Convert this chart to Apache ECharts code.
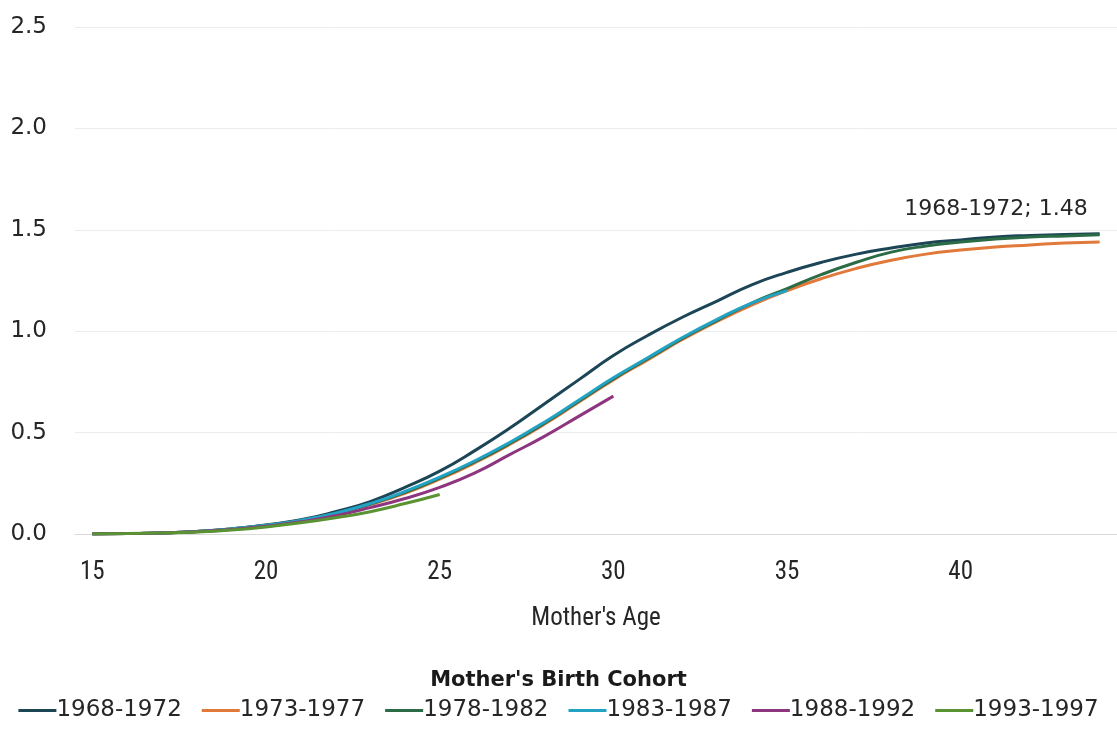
<!DOCTYPE html>
<html>
<head>
<meta charset="utf-8">
<script src="https://cdn.jsdelivr.net/npm/echarts@6/dist/echarts.min.js"></script>
<style>html,body{margin:0;padding:0;background:#fff;}#c{width:1117px;height:729px;}</style>
</head>
<body>
<div id="c"></div>
<script>
const ages = [15,16,17,18,19,20,21,22,23,24,25,26,27,28,29,30,31,32,33,34,35,36,37,38,39,40,41,42,43,44];
const yTicks = [0, 0.5, 1.0, 1.5, 2.0, 2.5];
const cohortNames = ['1968-1972','1973-1977','1978-1982','1983-1987','1988-1992','1993-1997'];
const c1968 = [0,0.002,0.005,0.012,0.025,0.045,0.07,0.11,0.16,0.23,0.31,0.41,0.52,0.64,0.76,0.88,0.98,1.07,1.15,1.23,1.29,1.34,1.38,1.41,1.435,1.45,1.465,1.472,1.477,1.48];
const c1973 = [0,0.002,0.005,0.012,0.025,0.042,0.065,0.10,0.145,0.20,0.27,0.35,0.44,0.54,0.65,0.76,0.86,0.96,1.05,1.13,1.20,1.26,1.31,1.35,1.38,1.40,1.415,1.425,1.435,1.44];
const c1978 = [0,0.002,0.005,0.012,0.025,0.043,0.067,0.10,0.148,0.205,0.275,0.355,0.445,0.545,0.655,0.765,0.865,0.965,1.055,1.14,1.21,1.28,1.34,1.39,1.42,1.44,1.455,1.465,1.47,1.475];
const c1983 = [0,0.002,0.005,0.012,0.025,0.043,0.067,0.102,0.15,0.21,0.28,0.36,0.45,0.55,0.66,0.77,0.87,0.97,1.06,1.14,1.20];
const c1988 = [0,0.002,0.005,0.011,0.022,0.038,0.06,0.09,0.13,0.175,0.23,0.30,0.39,0.48,0.58,0.68];
const c1993 = [0,0.002,0.005,0.010,0.020,0.035,0.055,0.08,0.11,0.15,0.195];
const seriesValues = [c1968, c1973, c1978, c1983, c1988, c1993];
const colors = ['#1c4556','#e0793a','#2b6b45','#22a3c4','#8e3580','#5a9432'];

const chart = echarts.init(document.getElementById('c'));
const series = seriesValues.map((vals, i) => {
  const s = {
    name: cohortNames[i],
    type: 'line',
    data: vals,
    smooth: true,
    showSymbol: false,
    symbol: 'none',
    lineStyle: { width: 3, color: colors[i] },
    itemStyle: { color: colors[i] },
    z: 2
  };
  if (i === 0) {
    s.endLabel = {
      show: true,
      align: 'right',
      offset: [-20, -25],
      formatter: p => cohortNames[0] + '; ' + Number(p.value).toFixed(2),
      fontFamily: 'DejaVu Sans',
      fontSize: 22,
      color: '#262626'
    };
  }
  return s;
});

chart.setOption({
  animation: false,
  backgroundColor: '#fff',
  grid: { left: 75, right: 0, top: 27, bottom: 195 },
  title: {
    text: "Mother's Birth Cohort",
    left: 'center',
    top: 665,
    textStyle: { fontFamily: 'DejaVu Sans', fontWeight: 'bold', fontSize: 21, color: '#1a1a1a' }
  },
  legend: {
    data: cohortNames,
    top: 694,
    left: 'center',
    itemWidth: 38,
    itemHeight: 3,
    itemGap: 20,
    icon: 'rect',
    textStyle: { fontFamily: 'DejaVu Sans', fontSize: 23, color: '#262626', padding: [0,0,0,-5] }
  },
  xAxis: {
    type: 'category',
    data: ages.map(String),
    boundaryGap: true,
    name: "Mother's Age",
    nameLocation: 'middle',
    nameGap: 72,
    nameTextStyle: { fontFamily: 'Roboto Condensed, Liberation Sans Narrow, Liberation Sans, sans-serif', fontSize: 25, color: '#262626' },
    axisLine: { show: true, lineStyle: { color: '#d9d9d9', width: 1 } },
    axisTick: { show: false },
    axisLabel: {
      interval: 4,
      margin: 26,
      fontFamily: 'Roboto Condensed, Liberation Sans Narrow, Liberation Sans, sans-serif',
      fontSize: 25,
      color: '#262626'
    },
    splitLine: { show: false }
  },
  yAxis: {
    type: 'value',
    min: 0,
    max: 2.5,
    interval: 0.5,
    axisLine: { show: false },
    axisTick: { show: false },
    axisLabel: {
      margin: 28,
      fontFamily: 'DejaVu Sans',
      fontSize: 23,
      color: '#262626',
      formatter: v => yTicks.includes(Math.round(v*10)/10) ? v.toFixed(1) : ''
    },
    splitLine: { show: true, lineStyle: { color: '#ececec', width: 1 } }
  },
  series: series
});
</script>
</body>
</html>
